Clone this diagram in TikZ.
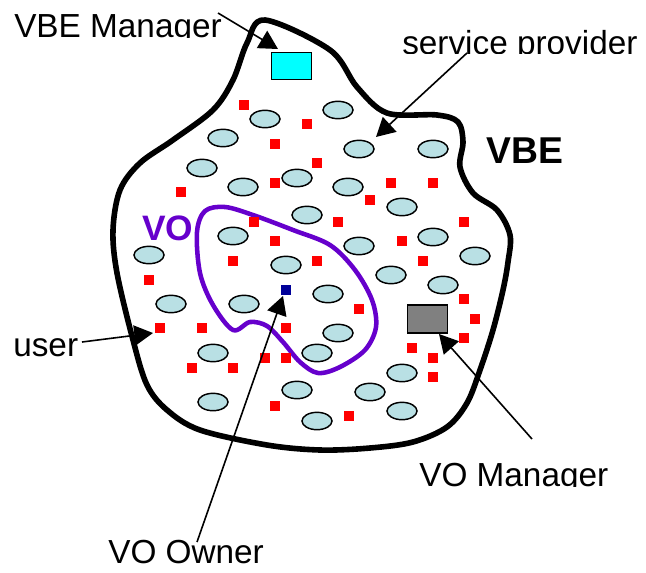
\documentclass[tikz,border=0pt]{standalone}
\usepackage{fontspec}
\setmainfont{Liberation Sans}
\usetikzlibrary{arrows.meta,shapes.geometric}
\definecolor{ellfill}{RGB}{185,224,228}
\definecolor{vopurple}{RGB}{102,0,204}
\definecolor{vbecyan}{RGB}{0,255,255}
\definecolor{mgrgray}{RGB}{128,128,128}
\definecolor{ownblue}{RGB}{0,0,153}
\begin{document}
\begin{tikzpicture}[x=0.75pt,y=-0.75pt,
  member/.style={draw, line width=1.1pt, fill=ellfill, ellipse, minimum width=22.5pt, minimum height=13pt, inner sep=0pt},
  res/.style={fill=red, minimum size=7.5pt, inner sep=0pt},
  lbl/.style={font=\fontsize{25}{30}\selectfont, anchor=base west, inner sep=0pt},
  arr/.style={line width=1.2pt, -{Triangle[length=14pt,width=15pt]}},
  vbeline/.style={line width=4.2pt, line join=round},
  voline/.style={draw=vopurple, line width=3.4pt, line join=round}]
\useasboundingbox (0,0) rectangle (646,572);

% VBE boundary
\draw[vbeline] plot[smooth cycle, tension=0.55] coordinates {
 (265,20) (330,50) (357,87) (387,113) (437,115) (458,122) (463,142) (460,167)
 (473,193) (497,210) (510,235) (508,262) (503,290) (493,330) (480,370) (467,403)
 (447,427) (413,442) (370,448) (320,450) (267,445) (200,430) (167,410) (147,385)
 (133,340) (117,273) (113,230) (120,190) (140,163) (173,140) (213,110) (233,80) (247,43)};

% VO boundary
\draw[voline] plot[smooth cycle, tension=0.55] coordinates {
 (205,211) (225,207) (253,215) (293,230) (330,245) (355,270) (372,300) (376,327)
 (365,350) (340,367) (318,373) (300,362) (283,342) (267,326) (250,322) (233,330)
 (213,305) (200,273) (197,232)};

% members (ellipses)
\foreach \p [count=\i] in {(265,119),(223,138),(202,168),(243,187),(297,178),(338,110),
  (359,149),(433,149),(348,187),(307,215),(402,207),(149,255),(233,236),(286,265),
  (359,246),(433,237),(475,256),(391,275),(443,285),(171,304),(244,304),(328,294),
  (338,333),(317,353),(213,353),(402,373),(297,390),(370,392),(213,402),(317,421),(402,411)}
  \node[member] (e\i) at \p {};

% resources (red squares)
\foreach \p [count=\i] in {(244,105),(307,124),(275,144),(317,163),(275,183),(181,192),
  (391,183),(433,183),(370,200),(254,222),(338,222),(464,222),(275,241),(402,241),
  (233,261),(317,261),(423,261),(149,280),(464,299),(359,309),(475,319),(160,328),
  (202,328),(286,328),(464,338),(412,348),(265,358),(286,358),(433,358),(192,368),
  (233,368),(433,377),(275,406),(349,416)}
  \node[res] (r\i) at \p {};

% VO owner, VBE manager, VO manager
\node[fill=ownblue, minimum size=7.5pt, inner sep=0pt] (owner) at (286,290) {};
\node[draw, line width=1.1pt, fill=vbecyan, minimum width=30pt, minimum height=20.5pt, inner sep=0pt] (vbem) at (291.5,66) {};
\node[draw, line width=1.4pt, fill=mgrgray, minimum width=30pt, minimum height=20.5pt, inner sep=0pt] (vom) at (427.5,319) {};

% labels
\begin{scope}
  \clip (0,0) rectangle (270,37);
  \node[lbl] (lvbem) at (14,37) {VBE Manager};
\end{scope}
\begin{scope}
  \clip (380,0) rectangle (646,53.5);
  \node[lbl] (lsp) at (402,54.5) {service provider};
\end{scope}
\node[lbl] (luser) at (13,356) {user};
\begin{scope}
  \clip (400,440) rectangle (646,486);
  \node[lbl] (lvom) at (419,486.5) {VO Manager};
\end{scope}
\node[lbl] (lvoo) at (108,563) {VO Owner};
\node[lbl, font=\fontsize{28}{32}\bfseries\selectfont] (lvbe) at (486,163) {VBE};
\node[lbl, font=\fontsize{26.5}{30}\bfseries\selectfont, text=vopurple] (lvo) at (142,240) {VO};

% connector ends
\coordinate (s1) at (218,13);
\coordinate (t1) at (278,49);
\coordinate (s2) at (467,53);
\coordinate (t2) at (376,137);
\coordinate (s3) at (82,342);
\coordinate (t3) at (153,333);
\coordinate (s4) at (197,542);
\coordinate (t4) at (283,296);
\coordinate (s5) at (532,439);
\coordinate (t5) at (439,334);

\draw[arr] (s1) -- (t1);
\draw[arr] (s2) -- (t2);
\draw[arr] (s3) -- (t3);
\draw[arr] (s4) -- (t4);
\draw[arr] (s5) -- (t5);
\end{tikzpicture}
\end{document}
